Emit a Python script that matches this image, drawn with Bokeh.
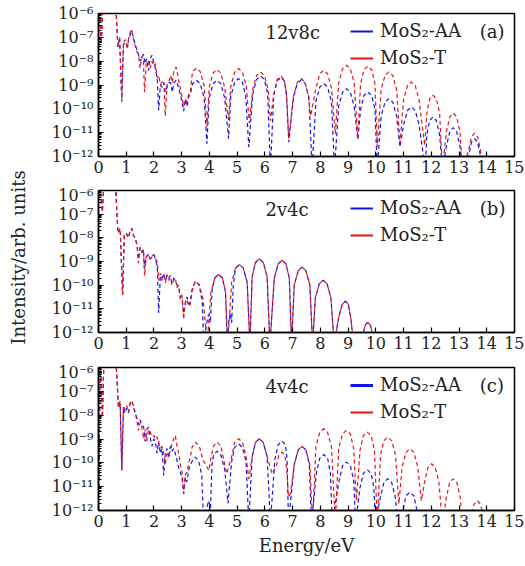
import math
from bokeh.plotting import figure
from bokeh.models import (Range1d, FixedTicker, CustomJSTickFormatter, Legend,
                          LegendItem, Label)
from bokeh.layouts import column, row
from bokeh.embed import file_html
from bokeh.resources import INLINE

# ---------------- data: (energy eV, log10 intensity) ----------------
A_AA = [(0.02,-5.6),(0.1,-7.3),(0.16,-5.6),(0.62,-5.6),(0.7,-7.4),(0.76,-7.0),(0.84,-9.7),(0.9,-7.3),
        (0.98,-7.2),(1.04,-7.4),(1.1,-7.0),(1.2,-6.75),(1.26,-7.0),(1.32,-7.3),(1.38,-7.5),(1.44,-7.7),
        (1.5,-8.0),(1.56,-7.9),(1.62,-7.7),(1.68,-8.1),(1.74,-7.9),(1.8,-8.4),(1.86,-7.9),(1.93,-7.75),
        (2.0,-8.1),(2.05,-8.3),(2.12,-8.8),(2.17,-10.06),(2.23,-9.0),(2.3,-9.1),(2.36,-8.9),(2.41,-9.3),
        (2.47,-9.1),(2.53,-8.9),(2.6,-8.9),(2.66,-9.3),(2.72,-8.9),(2.8,-8.8),(2.86,-9.0),(2.95,-9.4),
        (3.01,-9.7),(3.07,-10.1),(3.13,-9.6),(3.19,-9.9),(3.25,-9.5),(3.31,-9.4),
        (3.39,-8.95),(3.53,-8.8),(3.67,-8.95),(3.81,-9.55),(3.91,-11.46),
        (3.99,-9.55),(4.13,-8.95),(4.27,-8.8),(4.41,-8.95),(4.55,-9.55),(4.69,-11.25),
        (4.77,-9.48),(4.91,-8.88),(5.05,-8.73),(5.19,-8.88),(5.31,-9.48),(5.42,-11.6),
        (5.56,-9.37),(5.7,-8.77),(5.84,-8.62),(5.98,-8.77),(6.1,-9.37),(6.2,-12.5),
        (6.32,-9.43),(6.44,-8.83),(6.58,-8.68),(6.7,-8.83),(6.78,-9.43),(6.86,-11.4),
        (7.03,-9.53),(7.17,-8.93),(7.31,-8.78),(7.45,-8.93),(7.59,-9.53),(7.7,-12.5),
        (7.84,-9.69),(7.98,-9.09),(8.12,-8.94),(8.26,-9.09),(8.4,-9.69),(8.51,-12.5),
        (8.66,-9.9),(8.8,-9.3),(8.94,-9.15),(9.08,-9.3),(9.22,-9.9),(9.35,-11.3),
        (9.45,-10.04),(9.57,-9.44),(9.71,-9.29),(9.85,-9.44),(9.97,-10.04),(10.05,-12.5),
        (10.19,-10.32),(10.33,-9.72),(10.47,-9.57),(10.61,-9.72),(10.75,-10.32),(10.87,-11.6),
        (11.0,-10.67),(11.14,-10.07),(11.28,-9.92),(11.42,-10.07),(11.56,-10.67),(11.78,-12.5),
        (11.84,-11.09),(11.94,-10.49),(12.06,-10.34),(12.18,-10.49),(12.3,-11.09),(12.4,-12.5),
        (12.55,-11.54),(12.67,-10.94),(12.79,-10.79),(12.91,-10.94),(13.03,-11.54),(13.12,-12.5),
        (13.34,-12.0),(13.45,-11.4),(13.56,-11.25),(13.67,-11.4),(13.78,-12.0),(13.84,-12.5)]

A_T = [(0.02,-5.6),(0.1,-7.3),(0.16,-5.6),(0.62,-5.6),(0.7,-7.4),(0.76,-7.0),(0.84,-9.6),(0.9,-7.2),
       (0.98,-7.1),(1.04,-7.5),(1.1,-6.9),(1.2,-6.65),(1.26,-7.1),(1.32,-7.35),(1.38,-7.6),(1.44,-7.7),
       (1.5,-8.3),(1.56,-7.8),(1.62,-8.0),(1.66,-9.3),(1.72,-8.1),(1.8,-8.0),(1.86,-8.3),(1.93,-8.0),
       (2.0,-8.2),(2.05,-8.1),(2.12,-8.7),(2.17,-8.6),(2.24,-9.0),(2.3,-8.8),(2.36,-9.0),(2.41,-10.3),
       (2.47,-9.0),(2.53,-8.9),(2.6,-8.6),(2.66,-8.9),(2.72,-8.4),(2.8,-8.25),(2.86,-8.6),(2.95,-9.15),
       (3.01,-9.5),(3.07,-9.9),(3.13,-9.6),(3.19,-9.7),(3.25,-9.4),(3.31,-9.3),
       (3.39,-8.44),(3.53,-8.29),(3.67,-8.44),(3.81,-9.04),(3.91,-10.76),
       (3.99,-9.1),(4.13,-8.5),(4.27,-8.35),(4.41,-8.5),(4.55,-9.1),(4.69,-10.48),
       (4.77,-9.06),(4.91,-8.46),(5.05,-8.31),(5.19,-8.46),(5.33,-9.06),(5.44,-10.6),
       (5.56,-9.2),(5.7,-8.6),(5.84,-8.45),(5.98,-8.6),(6.12,-9.2),(6.2,-10.5),
       (6.32,-9.38),(6.44,-8.78),(6.58,-8.63),(6.7,-8.78),(6.78,-9.38),(6.86,-11.25),
       (7.03,-9.48),(7.17,-8.88),(7.31,-8.73),(7.45,-8.88),(7.57,-9.48),(7.65,-10.3),
       (7.84,-9.13),(7.98,-8.53),(8.12,-8.38),(8.26,-8.53),(8.4,-9.13),(8.54,-11.04),
       (8.66,-8.92),(8.8,-8.32),(8.94,-8.17),(9.08,-8.32),(9.22,-8.92),(9.35,-11.25),
       (9.45,-8.96),(9.57,-8.36),(9.71,-8.21),(9.85,-8.36),(9.97,-8.96),(10.05,-11.6),
       (10.19,-9.2),(10.33,-8.6),(10.47,-8.45),(10.61,-8.6),(10.75,-9.2),(10.87,-11.46),
       (11.0,-9.62),(11.14,-9.02),(11.28,-8.87),(11.42,-9.02),(11.56,-9.62),(11.76,-11.53),
       (11.84,-10.18),(11.94,-9.58),(12.06,-9.43),(12.18,-9.58),(12.3,-10.18),(12.4,-12.5),
       (12.55,-10.93),(12.67,-10.33),(12.79,-10.18),(12.91,-10.33),(13.03,-10.93),(13.12,-12.5),
       (13.34,-11.77),(13.45,-11.17),(13.56,-11.02),(13.67,-11.17),(13.78,-11.77),(13.84,-12.5)]

B_AA = [(0.02,-5.5),(0.14,-6.9),(0.2,-5.5),(0.6,-5.5),(0.7,-7.8),(0.78,-7.6),(0.87,-10.4),(0.93,-7.9),
        (1.0,-7.8),(1.08,-8.0),(1.14,-7.7),(1.2,-7.6),(1.26,-7.9),(1.32,-8.0),(1.39,-8.3),(1.44,-8.9),
        (1.5,-8.4),(1.57,-8.6),(1.62,-8.5),(1.66,-9.3),(1.72,-8.8),(1.8,-8.7),(1.86,-8.9),(1.93,-8.8),
        (2.0,-8.7),(2.05,-8.9),(2.12,-9.2),(2.17,-11.17),(2.23,-9.6),(2.29,-9.7),(2.35,-9.5),(2.41,-9.8),
        (2.47,-9.6),(2.53,-9.7),(2.59,-9.6),(2.65,-9.9),(2.71,-9.7),(2.77,-9.8),(2.83,-10.0),(2.89,-10.1),
        (2.95,-10.5),(3.01,-10.5),(3.07,-11.2),(3.13,-10.8),(3.19,-10.5),(3.25,-10.8),(3.31,-10.7),(3.37,-10.2),
        (3.49,-9.83),(3.63,-9.98),(3.74,-10.7),(3.79,-12.5),(3.9,-11.6),(3.97,-11.23),(4.03,-11.6),
        (4.1,-10.2),(4.19,-9.7),(4.33,-9.55),(4.47,-9.7),(4.58,-10.3),(4.64,-12.5),(4.7,-11.5),(4.75,-11.17),(4.8,-11.6),
        (4.86,-10.0),(4.94,-9.28),(5.08,-9.13),(5.22,-9.28),(5.36,-9.88),(5.46,-12.5),
        (5.54,-9.64),(5.66,-9.04),(5.8,-8.89),(5.94,-9.04),(6.08,-9.64),(6.18,-12.5),
        (6.34,-9.7),(6.48,-9.1),(6.62,-8.95),(6.76,-9.1),(6.88,-9.7),(6.96,-12.5),
        (7.06,-9.99),(7.2,-9.39),(7.34,-9.24),(7.48,-9.39),(7.62,-9.99),(7.72,-12.5),
        (7.82,-10.54),(7.96,-9.94),(8.1,-9.79),(8.24,-9.94),(8.38,-10.54),(8.5,-12.5),
        (8.65,-11.42),(8.78,-10.82),(8.91,-10.67),(9.01,-10.82),(9.1,-11.42),(9.2,-12.5),
        (9.52,-12.2),(9.61,-11.71),(9.71,-11.56),(9.81,-11.71),(9.9,-12.2),(9.95,-12.5)]

B_T = [(0.02,-5.5),(0.14,-6.9),(0.2,-5.5),(0.6,-5.5),(0.7,-7.8),(0.78,-7.6),(0.87,-10.4),(0.93,-7.9),
       (1.0,-7.8),(1.08,-8.0),(1.14,-7.7),(1.2,-7.6),(1.26,-7.9),(1.32,-8.0),(1.39,-8.3),(1.44,-9.06),
       (1.5,-8.4),(1.57,-8.64),(1.62,-8.5),(1.66,-9.6),(1.72,-8.8),(1.8,-8.7),(1.86,-8.9),(1.93,-8.78),
       (2.0,-8.7),(2.05,-8.9),(2.12,-9.0),(2.17,-9.8),(2.23,-9.5),(2.29,-9.8),(2.35,-9.6),(2.41,-9.9),
       (2.47,-9.55),(2.53,-9.8),(2.59,-9.7),(2.65,-10.0),(2.71,-9.8),(2.77,-9.7),(2.83,-10.1),(2.89,-10.0),
       (2.95,-10.6),(3.01,-10.4),(3.07,-11.45),(3.13,-10.7),(3.19,-10.6),(3.25,-10.9),(3.31,-10.8),(3.37,-10.3),
       (3.49,-9.83),(3.63,-9.98),(3.77,-10.58),(3.92,-12.5),
       (4.05,-10.3),(4.19,-9.7),(4.33,-9.55),(4.47,-9.7),(4.58,-10.3),(4.66,-12.5),
       (4.8,-9.88),(4.94,-9.28),(5.08,-9.13),(5.22,-9.28),(5.36,-9.88),(5.46,-12.5),
       (5.54,-9.64),(5.66,-9.04),(5.8,-8.89),(5.94,-9.04),(6.08,-9.64),(6.18,-12.5),
       (6.34,-9.7),(6.48,-9.1),(6.62,-8.95),(6.76,-9.1),(6.88,-9.7),(6.96,-12.5),
       (7.06,-9.99),(7.2,-9.39),(7.34,-9.24),(7.48,-9.39),(7.62,-9.99),(7.72,-12.5),
       (7.82,-10.54),(7.96,-9.94),(8.1,-9.79),(8.24,-9.94),(8.38,-10.54),(8.5,-12.5),
       (8.65,-11.42),(8.78,-10.82),(8.91,-10.67),(9.01,-10.82),(9.1,-11.42),(9.2,-12.5),
       (9.52,-12.2),(9.61,-11.71),(9.71,-11.56),(9.81,-11.71),(9.9,-12.2),(9.95,-12.5)]

C_AA = [(0.02,-11.05),(0.06,-5.5),(0.14,-8.1),(0.2,-5.5),(0.62,-5.5),(0.72,-7.7),(0.78,-7.5),(0.84,-10.3),
        (0.9,-7.7),(0.96,-7.9),(1.02,-7.7),(1.08,-7.9),(1.14,-7.5),(1.2,-7.4),(1.26,-7.6),(1.32,-7.9),
        (1.38,-8.1),(1.44,-8.4),(1.5,-8.2),(1.56,-8.4),(1.63,-8.5),(1.68,-9.1),(1.74,-8.6),(1.8,-8.5),
        (1.86,-8.9),(1.93,-9.3),(1.99,-9.0),(2.05,-9.1),(2.11,-9.6),(2.17,-9.1),(2.23,-9.6),(2.29,-9.4),
        (2.35,-10.53),(2.41,-9.6),(2.47,-9.4),(2.53,-9.8),(2.59,-9.3),(2.65,-9.5),(2.71,-9.4),(2.77,-9.6),
        (2.83,-9.9),(2.89,-10.2),(2.95,-10.4),(3.01,-10.6),(3.07,-11.3),(3.13,-10.6),(3.19,-10.8),(3.25,-10.3),(3.31,-10.1),
        (3.39,-9.9),(3.49,-9.76),(3.61,-9.91),(3.72,-10.5),(3.79,-12.5),(3.9,-11.9),(3.97,-11.59),(4.04,-11.9),
        (4.09,-10.1),(4.15,-9.66),(4.27,-9.51),(4.41,-9.66),(4.55,-10.26),(4.67,-11.7),
        (4.8,-9.95),(4.91,-9.35),(5.05,-9.2),(5.19,-9.35),(5.32,-9.95),(5.42,-12.5),
        (5.54,-9.74),(5.66,-9.14),(5.8,-8.99),(5.94,-9.14),(6.08,-9.74),(6.2,-12.5),
        (6.36,-9.84),(6.48,-9.24),(6.62,-9.09),(6.74,-9.24),(6.8,-9.84),(6.85,-12.5),
        (7.06,-10.06),(7.2,-9.46),(7.34,-9.31),(7.48,-9.46),(7.6,-10.06),(7.68,-12.5),
        (7.86,-10.4),(7.98,-9.8),(8.12,-9.65),(8.26,-9.8),(8.36,-10.4),(8.43,-12.5),
        (8.68,-10.72),(8.8,-10.12),(8.94,-9.97),(9.08,-10.12),(9.2,-10.72),(9.27,-12.5),
        (9.43,-11.04),(9.55,-10.44),(9.69,-10.29),(9.83,-10.44),(9.93,-11.04),(9.98,-12.5),
        (10.17,-11.42),(10.29,-10.82),(10.43,-10.67),(10.57,-10.82),(10.7,-11.42),(10.8,-12.5),
        (10.98,-11.98),(11.09,-11.38),(11.23,-11.23),(11.37,-11.38),(11.48,-11.98),(11.55,-12.5),
        (11.86,-12.2),(11.93,-12.0),(12.0,-11.94),(12.07,-12.0),(12.14,-12.2),(12.2,-12.5)]

C_T = [(0.02,-9.0),(0.08,-5.5),(0.14,-8.1),(0.2,-5.5),(0.62,-5.5),(0.72,-7.66),(0.78,-7.4),(0.84,-10.32),
       (0.9,-7.6),(0.96,-7.8),(1.02,-7.6),(1.08,-7.86),(1.14,-7.5),(1.2,-7.38),(1.26,-7.7),(1.32,-7.86),
       (1.38,-8.2),(1.44,-8.64),(1.5,-8.3),(1.56,-8.5),(1.63,-9.0),(1.68,-8.6),(1.74,-9.1),(1.8,-8.6),
       (1.86,-8.7),(1.93,-8.9),(1.99,-8.85),(2.05,-9.0),(2.11,-8.9),(2.17,-9.2),(2.23,-9.4),(2.29,-9.3),
       (2.35,-9.6),(2.41,-10.05),(2.47,-9.6),(2.53,-9.7),(2.59,-9.5),(2.65,-9.2),(2.71,-9.0),(2.77,-8.85),
       (2.83,-9.3),(2.89,-9.6),(2.95,-10.05),(3.01,-10.4),(3.07,-11.3),(3.13,-10.5),(3.19,-10.4),(3.25,-10.0),(3.31,-9.8),
       (3.37,-9.35),(3.49,-9.13),(3.63,-9.28),(3.77,-9.88),(3.98,-10.32),
       (4.07,-9.7),(4.15,-9.3),(4.27,-9.13),(4.41,-9.28),(4.52,-9.88),(4.62,-10.46),
       (4.8,-9.74),(4.91,-9.14),(5.05,-8.99),(5.19,-9.14),(5.32,-9.74),(5.42,-10.67),
       (5.54,-9.74),(5.66,-9.14),(5.8,-8.99),(5.94,-9.14),(6.08,-9.74),(6.26,-10.46),
       (6.42,-10.1),(6.5,-9.7),(6.62,-9.55),(6.72,-9.7),(6.79,-10.3),(6.85,-11.44),(6.92,-11.3),
       (7.06,-10.06),(7.2,-9.46),(7.34,-9.31),(7.48,-9.46),(7.62,-10.06),(7.72,-12.5),
       (7.84,-9.32),(7.98,-8.72),(8.12,-8.57),(8.26,-8.72),(8.4,-9.32),(8.54,-12.5),
       (8.66,-9.39),(8.8,-8.79),(8.94,-8.64),(9.08,-8.79),(9.2,-9.39),(9.3,-11.59),
       (9.43,-9.46),(9.55,-8.86),(9.69,-8.71),(9.83,-8.86),(9.95,-9.46),(10.05,-12.5),
       (10.17,-9.67),(10.29,-9.07),(10.43,-8.92),(10.57,-9.07),(10.71,-9.67),(10.83,-11.72),
       (10.95,-10.16),(11.09,-9.56),(11.23,-9.41),(11.37,-9.56),(11.51,-10.16),(11.64,-11.59),
       (11.76,-10.79),(11.88,-10.19),(12.01,-10.04),(12.14,-10.19),(12.27,-10.79),(12.4,-12.5),
       (12.55,-11.42),(12.66,-10.82),(12.79,-10.67),(12.92,-10.82),(13.04,-11.42),(13.12,-12.5),
       (13.44,-12.3),(13.54,-11.74),(13.66,-11.59),(13.78,-11.74),(13.88,-12.3),(13.95,-12.5)]

PANEL_TAGS = ["12v8c", "2v4c", "4v4c"]
PANEL_LETTERS = ["(a)", "(b)", "(c)"]
SERIES_NAMES = ["MoS\u2082-AA", "MoS\u2082-T"]
X_TICKS = list(range(0, 16))
Y_DECADES = list(range(-12, -5))
Y_LABEL = "Intensity/arb. units"
X_LABEL = "Energy/eV"

FONT = "DejaVu Serif"
BLUE = "#1414e6"
RED = "#e61414"
TXT = "#222222"
LABEL_W = 30

SUP_JS = """
const sup = {"-":"\u207b","0":"\u2070","1":"\u00b9","2":"\u00b2","3":"\u00b3","4":"\u2074",
             "5":"\u2075","6":"\u2076","7":"\u2077","8":"\u2078","9":"\u2079"};
const e = Math.round(Math.log10(tick));
return "10" + String(e).split("").map(c => sup[c]).join("");
"""


def make_panel(aa, t, tag, letter, height, top, frame_h, bottom, xlabel=None, blue_lw=2):
    p = figure(width=524 - LABEL_W, height=height, x_range=Range1d(0, 15), y_range=Range1d(1e-12, 1e-6),
               y_axis_type="log", output_backend="svg", toolbar_location=None,
               min_border_left=98 - LABEL_W, min_border_right=10, min_border_top=top,
               min_border_bottom=bottom)
    p.xgrid.visible = False
    p.ygrid.visible = False
    p.outline_line_color = "black"
    p.outline_line_width = 1.5
    p.background_fill_color = "white"

    for ax in (p.xaxis[0], p.yaxis[0]):
        ax.axis_line_width = 1.5
        ax.axis_line_color = "black"
        ax.major_tick_in = 5
        ax.major_tick_out = 0
        ax.major_tick_line_width = 1.2
        ax.major_label_text_font = FONT
        ax.major_label_text_font_size = "16px"
        ax.major_label_text_color = TXT
        ax.axis_label_text_font = FONT
        ax.axis_label_text_font_size = "18px"
        ax.axis_label_text_font_style = "normal"
        ax.axis_label_text_color = TXT

    p.xaxis.ticker = FixedTicker(ticks=X_TICKS)
    p.xaxis.minor_tick_line_color = None
    p.xaxis.major_label_standoff = 4

    p.yaxis.ticker = FixedTicker(ticks=[10.0 ** d for d in Y_DECADES],
                                 minor_ticks=[k * 10.0 ** d for d in Y_DECADES[:-1] for k in range(2, 10)])
    p.yaxis.formatter = CustomJSTickFormatter(code=SUP_JS)
    p.yaxis.minor_tick_in = 3
    p.yaxis.minor_tick_out = 0
    p.yaxis.major_label_standoff = 5

    if xlabel:
        p.xaxis.axis_label = xlabel
        p.xaxis.axis_label_standoff = 5

    xa = [e for e, _ in aa]
    ya = [10.0 ** v for _, v in aa]
    xt = [e for e, _ in t]
    yt = [10.0 ** v for _, v in t]
    p.line(xa, ya, line_color=BLUE, line_width=1.2, line_dash="4 3")
    p.line(xt, yt, line_color=RED, line_width=1.2, line_dash="4 3")

    # solid keys for the legend (drawn outside the visible range)
    lb = p.line([-3, -2], [1e-3, 1e-3], line_color=BLUE, line_width=blue_lw)
    lr = p.line([-3, -2], [1e-3, 1e-3], line_color=RED, line_width=2)
    legend = Legend(items=[LegendItem(label=SERIES_NAMES[0], renderers=[lb]),
                           LegendItem(label=SERIES_NAMES[1], renderers=[lr])],
                    location=(252, frame_h - 55), orientation="vertical",
                    glyph_width=23, glyph_height=20, label_height=20, spacing=6,
                    padding=0, margin=0, label_standoff=7,
                    label_text_font=FONT, label_text_font_size="18px", label_text_color=TXT,
                    border_line_alpha=0, background_fill_alpha=0)
    p.add_layout(legend)

    p.add_layout(Label(x=6.02, y=10 ** -6.8, text=tag, text_font=FONT, text_font_size="18px",
                       text_baseline="middle", text_align="left", text_color=TXT))
    p.add_layout(Label(x=13.75, y=10 ** -6.75, text=letter, text_font=FONT, text_font_size="18px",
                       text_baseline="middle", text_align="left", text_color=TXT))
    return p


pa = make_panel(A_AA, A_T, PANEL_TAGS[0], PANEL_LETTERS[0], 185, 13, 143, 29)
pb = make_panel(B_AA, B_T, PANEL_TAGS[1], PANEL_LETTERS[1], 177, 5, 142, 30)
pc = make_panel(C_AA, C_T, PANEL_TAGS[2], PANEL_LETTERS[2], 196, 5, 143, 48,
                xlabel=X_LABEL, blue_lw=3)

total_h = 185 + 177 + 196
lab = figure(width=LABEL_W, height=total_h, x_range=Range1d(0, LABEL_W), y_range=Range1d(0, total_h),
             output_backend="svg", toolbar_location=None, x_axis_location=None, y_axis_location=None,
             min_border=0)
lab.outline_line_color = None
lab.xgrid.visible = False
lab.ygrid.visible = False
lab.add_layout(Label(x=18, y=total_h - 257, text=Y_LABEL, angle=math.pi / 2, text_font=FONT,
                     text_font_size="18px", text_align="center", text_baseline="middle",
                     text_color=TXT))

layout = row(lab, column(pa, pb, pc, spacing=0), spacing=0)
open("out.html", "w").write(file_html(layout, INLINE))
